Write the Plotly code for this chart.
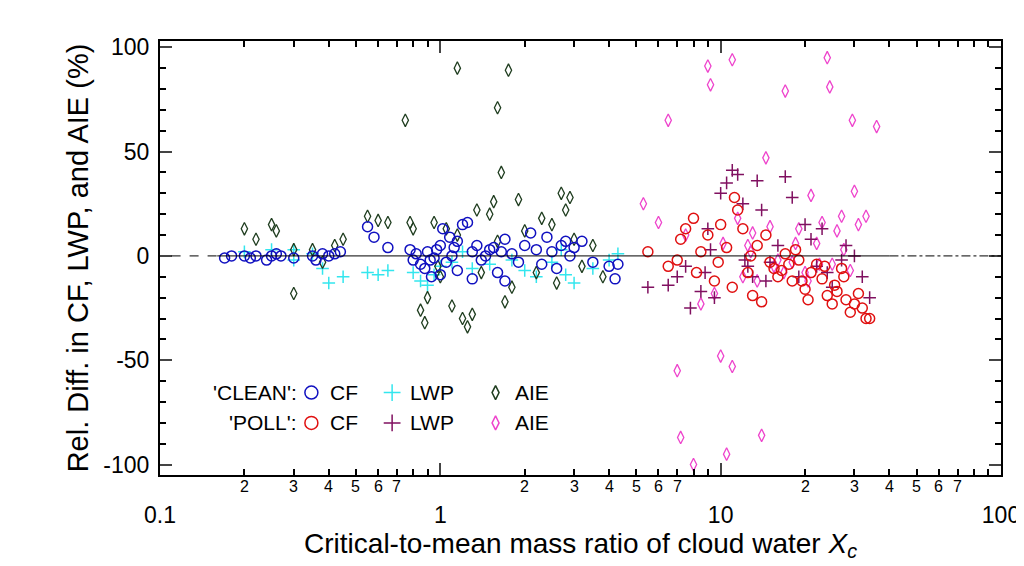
import plotly.graph_objects as go
import math

clean_cf_x=[0.17,0.18,0.2,0.21,0.22,0.24,0.25,0.26,0.27,0.3,0.35,0.36,0.38,0.4,0.42,0.44,0.55,0.58,0.65,0.78,0.8,0.82,0.85,0.88,0.9,0.92,0.95,0.97,1.0,1.02,1.05,1.08,1.1,1.12,1.15,1.2,1.25,1.3,1.35,1.4,1.45,1.5,1.55,1.6,1.65,1.7,1.8,1.9,2.0,2.1,2.2,2.3,2.4,2.5,2.6,2.7,2.8,2.9,3.0,3.2,4.0,4.2,4.3,3.5,1.15,0.93,1.0,1.3,1.7]
clean_cf_y=[-1,0,0,-1,0,-2,0,1,0,-1,0,-2,1,0,1,2,14,9,4,3,-2,1,-4,-6,2,-2,-1,3,5,13,-3,9,0,4,7,15,16,2,5,-2,0,3,4,-8,2,8,1,-3,5,11,3,-4,9,2,-6,5,7,0,4,7,-5,-11,-4,-3,-7,-10,-9,-11,-12]
clean_lwp_x=[0.2,0.25,0.3,0.35,0.38,0.4,0.45,0.55,0.6,0.65,0.8,0.85,0.9,0.95,1.0,1.1,1.3,1.5,1.8,2.0,2.2,2.5,2.8,3.0,3.5,4.0,4.3,0.3,1.2,2.7]
clean_lwp_y=[2,3,3,1,-6,-13,-10,-8,-9,-7,-8,-12,-14,-9,-5,-3,-6,-4,-2,-7,-10,-3,-9,-13,-6,-2,1,-2,2,3]
clean_aie_x=[0.2,0.22,0.25,0.26,0.3,0.3,0.35,0.38,0.42,0.45,0.55,0.6,0.65,0.75,0.78,0.8,0.85,0.88,0.9,0.95,1.0,1.05,1.1,1.15,1.2,1.25,1.3,1.4,1.5,1.6,1.65,1.7,1.75,1.8,1.9,2.0,2.2,2.3,2.5,2.6,2.7,2.8,2.9,3.0,3.2,3.5,3.8,1.35,1.55,0.98,1.15,1.6]
clean_aie_y=[13,8,15,12,3,-18,3,-3,5,8,19,17,16,65,16,13,-26,-32,-20,16,-10,13,-24,90,-30,-34,-28,-8,20,71,40,-22,89,-15,27,12,-8,18,15,-13,30,22,28,8,-5,5,-10,22,26,-5,10,7]
poll_cf_x=[5.5,7,7.5,8,8.2,8.5,9,9.5,9.8,10,10.5,11,11.2,11.5,12,12.5,13,13.5,14,14.5,15,15.5,16,17,17.5,18,18.5,19,20,20.5,21,22,23,24,25,25.5,26,27,28,29,30,31,32,33,34,6.5,7.2,12.8,16.5,27.5,19.5,23.5]
poll_cf_y=[2,-2,13,18,-8,2,10,-12,-3,15,4,-15,28,22,13,-8,-19,5,-22,10,-3,-6,-10,1,-4,-12,3,-2,-16,-21,-8,-4,-11,-19,-23,-14,-17,-6,-21,-27,-23,-18,-25,-30,-30,-5,8,0,-7,-10,-12,-5]
poll_lwp_x=[5.5,6.5,7,7.5,7.8,8.5,9,9.5,10,10.5,11,11.5,12,12.5,13,13.5,14,14.5,15,16,17,18,19,20,21,22,23,24,25,27,28,30,32,34,9.2,12.2,8.8]
poll_lwp_y=[-15,-14,-10,-5,-25,-17,13,-20,30,35,41,39,25,-5,-10,36,22,-12,-3,5,38,28,-10,15,8,-5,13,-8,-15,-2,5,0,-10,-20,3,-2,-8]
poll_aie_x=[5.3,6,6.5,7,7.2,7.5,8,8.5,9,9.2,9.5,10,10.5,11,11,11.5,12,12.5,13,13.5,14,14.5,15,15.5,16,17,18,19,20,21,22,23,24,24.5,25,26,27,29,29.5,30,31,33,36,10.2,12.8,16.8,18.5,20.5,22.5,27.5]
poll_aie_y=[25,16,65,-55,-87,10,-100,-23,91,82,-18,-48,-95,-53,94,18,-10,5,11,-12,-86,47,14,-5,-2,79,-3,13,-8,29,6,16,95,81,-4,12,19,-7,65,31,15,19,62,6,2,-8,6,-12,-4,3]

major_vals=[0.1,1,10,100]
major_text=["0.1","1","10","100"]
minor_labels=["2","3","4","5","6","7"]
y_vals=[-100,-50,0,50,100]
y_text=["-100","-50","0","50","100"]

fig=go.Figure()
def add(x,y,sym,col,size=9,w=1.5):
    fig.add_trace(go.Scatter(x=x,y=y,mode="markers",marker=dict(symbol=sym,size=size,color=col,line=dict(color=col,width=w))))
add(clean_lwp_x,clean_lwp_y,"cross-thin","#33e6ee",9,1.5)
add(clean_aie_x,clean_aie_y,"diamond-tall-open","#1f3d1f",9,1.3)
add(clean_cf_x,clean_cf_y,"circle-open","#1010c0",10,1.5)
add(poll_aie_x,poll_aie_y,"diamond-tall-open","#ee44cc",9,1.3)
add(poll_lwp_x,poll_lwp_y,"cross-thin","#801060",9,1.5)
add(poll_cf_x,poll_cf_y,"circle-open","#e01010",10,1.5)

lx=[0.18,0.276,0.399]
rows=[0.19,0.12]
for row,cols in zip(rows,[["#1010c0","#33e6ee","#1f3d1f"],["#e01010","#801060","#ee44cc"]]):
    for xx,sym,c,s in zip(lx,["circle-open","cross-thin","diamond-tall-open"],cols,[13,12,10]):
        fig.add_trace(go.Scatter(x=[xx],y=[row],xaxis="x2",yaxis="y2",mode="markers",
            marker=dict(symbol=sym,size=s,color=c,line=dict(color=c,width=1.5))))
fs=21
def txt(x,y,t,anchor="left"):
    fig.add_annotation(xref="x2",yref="y2",x=x,y=y,text=t,showarrow=False,xanchor=anchor,yanchor="middle",font=dict(size=fs,color="black"))
txt(0.165,rows[0],"'CLEAN':","right"); txt(0.165,rows[1],"'POLL':","right")
for row in rows:
    txt(0.2,row,"CF"); txt(0.295,row,"LWP"); txt(0.42,row,"AIE")

fig.add_shape(type="line",xref="x",yref="y",x0=0.16,x1=40,y0=0,y1=0,line=dict(color="black",width=1))
fig.add_shape(type="line",xref="x",yref="y",x0=0.11,x1=0.16,y0=0,y1=0,line=dict(color="black",width=1,dash="dash"))
fig.add_shape(type="line",xref="x",yref="y",x0=40,x1=100,y0=0,y1=0,line=dict(color="black",width=1,dash="dashdot"))

for d in [0.1,1,10]:
    for i,l in enumerate(minor_labels):
        v=d*(i+2)
        fig.add_annotation(x=math.log10(v),y=0,xref="x",yref="paper",yshift=-22,text=l,showarrow=False,font=dict(size=16,color="black"))

fig.update_layout(width=1024,height=566,margin=dict(l=152,r=24,t=33,b=99),plot_bgcolor="white",paper_bgcolor="white",
    showlegend=False,font=dict(family="Liberation Sans",color="black"),
    xaxis=dict(type="log",range=[-1,2],tickvals=major_vals,ticktext=major_text,ticks="inside",ticklen=12,tickwidth=2,
        showline=True,linewidth=2,linecolor="black",mirror="ticks",showgrid=False,zeroline=False,tickfont=dict(size=23),
        ticklabelstandoff=18,
        minor=dict(tickvals=[d*k for d in [0.1,1,10] for k in range(2,10)],ticks="inside",ticklen=6,tickwidth=1.5,tickcolor="black",showgrid=False),
        title=dict(text="Critical-to-mean mass ratio of cloud water <i>X<sub>c</sub></i>",font=dict(size=28),standoff=2)),
    yaxis=dict(range=[-105,103],tickvals=y_vals,ticktext=y_text,ticks="inside",ticklen=12,tickwidth=2,showline=True,linewidth=2,
        linecolor="black",mirror="ticks",showgrid=False,zeroline=False,tickfont=dict(size=23),ticklabelstandoff=4,
        minor=dict(dtick=10,ticks="inside",ticklen=6,tickwidth=1.5,tickcolor="black"),
        title=dict(text="Rel. Diff. in CF, LWP, and AIE (%)",font=dict(size=29),standoff=6)),
    xaxis2=dict(overlaying="x",range=[0,1],visible=False),
    yaxis2=dict(overlaying="y",range=[0,1],visible=False))
fig.write_html("out.html")
